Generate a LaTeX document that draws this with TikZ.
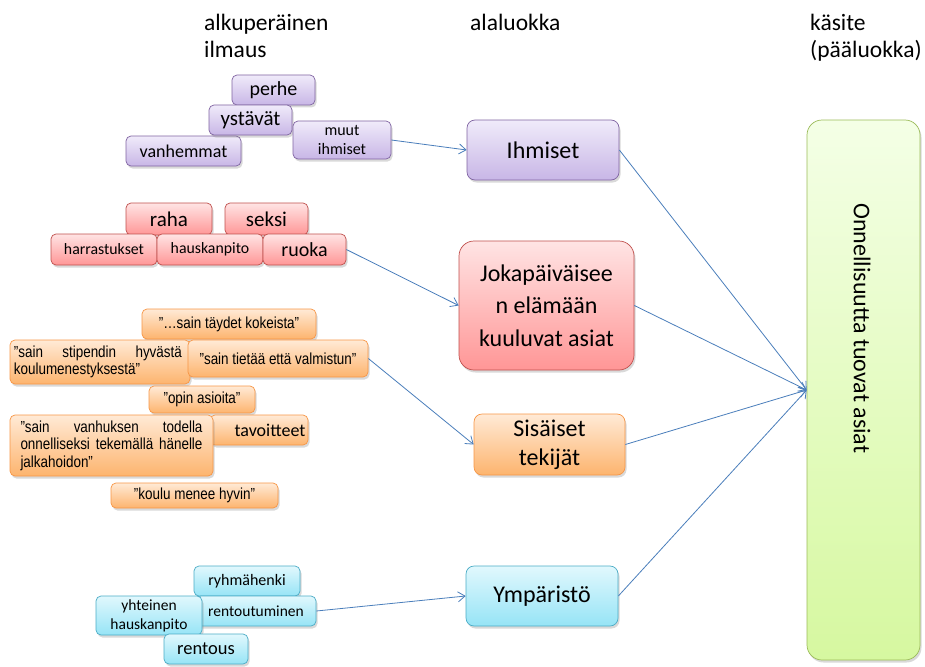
\documentclass[tikz,border=0pt]{standalone}
\usepackage{fontspec}
\setmainfont{Carlito}
\newfontfamily\narrowfont[FakeStretch=0.84]{Liberation Sans}
\usetikzlibrary{arrows.meta,shadows}
\definecolor{pborder}{RGB}{128,100,162}
\definecolor{ptop}{RGB}{240,235,250}
\definecolor{pbot}{RGB}{200,182,230}
\definecolor{rborder}{RGB}{192,80,77}
\definecolor{rtop}{RGB}{255,228,228}
\definecolor{rbot}{RGB}{255,150,150}
\definecolor{oborder}{RGB}{247,150,70}
\definecolor{otop}{RGB}{255,234,214}
\definecolor{obot}{RGB}{253,180,110}
\definecolor{cborder}{RGB}{75,172,198}
\definecolor{ctop}{RGB}{225,248,253}
\definecolor{cbot}{RGB}{150,228,246}
\definecolor{gborder}{RGB}{155,187,89}
\definecolor{gtop}{RGB}{244,255,230}
\definecolor{gbot}{RGB}{214,248,160}
\definecolor{arrowblue}{RGB}{74,126,187}
\tikzset{
  basebox/.style={rounded corners=5pt, line width=0.7pt, inner sep=1pt, align=center,
    drop shadow={opacity=0.3, shadow xshift=1.5pt, shadow yshift=-2.5pt}},
  pbox/.style={basebox, draw=pborder, top color=ptop, bottom color=pbot},
  rbox/.style={basebox, draw=rborder, top color=rtop, bottom color=rbot},
  obox/.style={basebox, draw=oborder, top color=otop, bottom color=obot},
  cbox/.style={basebox, draw=cborder, top color=ctop, bottom color=cbot},
  gbox/.style={basebox, rounded corners=15pt, draw=gborder, top color=gtop, bottom color=gbot},
  qtext/.style={font=\narrowfont\fontsize{16}{17.5}\selectfont},
  hdr/.style={font=\fontsize{23.5}{27}\selectfont, align=left, anchor=north west, inner sep=0pt},
  conn/.style={draw=arrowblue, line width=0.8pt, -{Straight Barb[length=7pt,width=10pt]}}
}
\begin{document}
\begin{tikzpicture}[x=1pt,y=-1pt]
\useasboundingbox (0,0) rectangle (925,666);
% headers
\node[hdr] (h1) at (204,14) {alkuperäinen\\ilmaus};
\node[hdr] (h2) at (470,14) {alaluokka};
\node[hdr] (h3) at (810,14) {käsite\\(pääluokka)};
% purple
\node[pbox, minimum width=115, minimum height=30, font=\fontsize{18}{19}\selectfont] (vanhemmat) at (183.5,151) {vanhemmat};
\node[pbox, minimum width=83, minimum height=30, font=\fontsize{20}{21}\selectfont] (perhe) at (273.5,90) {perhe};
\node[pbox, minimum width=83, minimum height=30, font=\fontsize{21}{22}\selectfont] (ystavat) at (250.5,120) {ystävät};
\node[pbox, minimum width=98, minimum height=38, font=\fontsize{16}{19}\selectfont] (muut) at (342,140) {muut\\ihmiset};
\node[pbox, rounded corners=8pt, minimum width=152, minimum height=60, font=\fontsize{24}{25}\selectfont] (ihmiset) at (543,150) {Ihmiset};
% red
\node[rbox, minimum width=86, minimum height=32, font=\fontsize{21}{22}\selectfont] (raha) at (169,219) {raha};
\node[rbox, minimum width=83, minimum height=32, font=\fontsize{21}{22}\selectfont] (seksi) at (266.5,219) {seksi};
\node[rbox, minimum width=106, minimum height=31, font=\fontsize{15.8}{17}\selectfont] (harrastukset) at (104,249.5) {harrastukset};
\node[rbox, minimum width=106, minimum height=31, font=\fontsize{15.8}{17}\selectfont] (hauskanpito) at (210,249.5) {hauskanpito};
\node[rbox, minimum width=83, minimum height=31, font=\fontsize{20}{21}\selectfont] (ruoka) at (304.5,249.5) {ruoka};
\node[rbox, rounded corners=15pt, minimum width=175, minimum height=129, font=\fontsize{24}{32.5}\selectfont] (joka) at (546.5,305.5) {Jokapäiväisee\\n elämään\\kuuluvat asiat};
% orange
\node[obox, qtext, minimum width=174, minimum height=30] (taydet) at (229,324) {”…sain täydet kokeista”};
\node[obox, qtext, minimum width=180, minimum height=44, align=left] (stipendin) at (100,362) {\makebox[168pt][s]{”sain stipendin hyvästä}\\koulumenestyksestä”\hspace*{46pt}};
\node[obox, qtext, minimum width=180, minimum height=37] (tietaa) at (278,358.5) {”sain tietää että valmistun”};
\node[obox, qtext, minimum width=106, minimum height=27] (opin) at (202,399.5) {”opin asioita”};
\node[obox, minimum width=98, minimum height=30, font=\fontsize{18}{19}\selectfont] (tavoitteet) at (259,430) {\hspace*{22pt}tavoitteet};
\node[obox, qtext, minimum width=203, minimum height=61, align=left] (vanhuksen) at (111.5,445.5) {\makebox[182pt][s]{”sain vanhuksen todella}\\\makebox[182pt][s]{onnelliseksi tekemällä hänelle}\\jalkahoidon”\hspace*{103pt}};
\node[obox, qtext, minimum width=167, minimum height=25] (koulu) at (194.5,495.5) {”koulu menee hyvin”};
\node[obox, rounded corners=8pt, minimum width=151, minimum height=61, font=\fontsize{24}{29}\selectfont] (sisaiset) at (549.5,444.5) {Sisäiset\\tekijät};
% cyan
\node[cbox, minimum width=106, minimum height=30, font=\fontsize{16}{17}\selectfont] (ryhma) at (247,581) {ryhmähenki};
\node[cbox, minimum width=120, minimum height=30, font=\fontsize{15.5}{17}\selectfont] (rentoutuminen) at (256,611) {rentoutuminen};
\node[cbox, minimum width=106, minimum height=39, font=\fontsize{15.5}{19}\selectfont] (yhteinen) at (149,615.5) {yhteinen\\hauskanpito};
\node[cbox, minimum width=84, minimum height=30, font=\fontsize{18.5}{19}\selectfont] (rentous) at (206,649) {rentous};
\node[cbox, rounded corners=8pt, minimum width=152, minimum height=60, font=\fontsize{24}{25}\selectfont] (ymparisto) at (542,596) {Ympäristö};
% green
\node[gbox, minimum width=113, minimum height=540] (green) at (863.5,390) {};
\node[rotate=-90, anchor=west, inner sep=0pt, font=\fontsize{24}{25}\selectfont] (gtext) at (862,203) {Onnellisuutta tuovat asiat};
% connectors
\draw[conn] (muut.east) -- (ihmiset.west);
\draw[conn] (ruoka.east) -- (joka.west);
\draw[conn] (tietaa.east) -- (sisaiset.west);
\draw[conn] (rentoutuminen.east) -- (ymparisto.west);
\draw[conn] (ihmiset.east) -- (green.west);
\draw[conn] (joka.east) -- (green.west);
\draw[conn] (sisaiset.east) -- (green.west);
\draw[conn] (ymparisto.east) -- (green.west);
\end{tikzpicture}
\end{document}
